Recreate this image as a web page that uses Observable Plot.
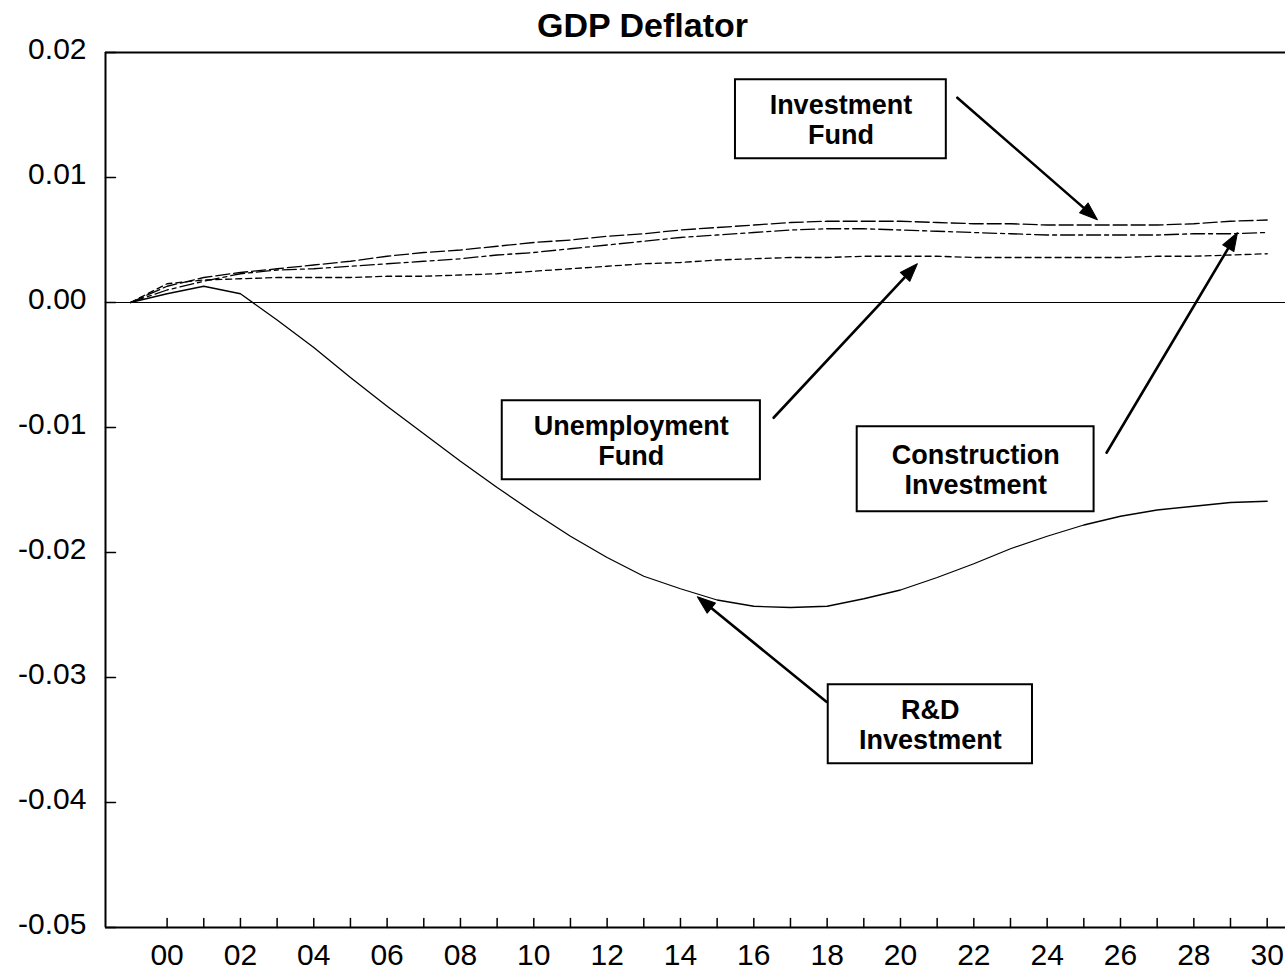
<!DOCTYPE html>
<html>
<head>
<meta charset="utf-8">
<script src="https://cdn.jsdelivr.net/npm/d3@7"></script>
<script src="https://cdn.jsdelivr.net/npm/@observablehq/plot@0.6"></script>
<style>
  html, body { margin: 0; padding: 0; background: #fff; overflow: hidden; }
  #wrap { position: relative; width: 1285px; height: 971px; }
  #chart { position: absolute; left: 0; top: 0; }
  #title { position: absolute; left: 0; top: 8px; width: 1285px; text-align: center; z-index: 2;
           font: bold 34px/34px "Liberation Sans", Arial, Helvetica, sans-serif; color: #000; }
</style>
</head>
<body>
<div id="wrap">
  <div id="chart"></div>
  <div id="title">GDP Deflator</div>
</div>
<script>
// ---- data ----
const years = [1999,2000,2001,2002,2003,2004,2005,2006,2007,2008,2009,2010,2011,2012,2013,2014,2015,
               2016,2017,2018,2019,2020,2021,2022,2023,2024,2025,2026,2027,2028,2029,2030];
const rdInvestment = [0,0.0007,0.0013,0.0007,-0.0014,-0.0036,-0.0060,-0.0083,-0.0105,-0.0127,-0.0148,-0.0168,
  -0.0187,-0.0204,-0.0219,-0.0229,-0.0238,-0.0243,-0.0244,-0.0243,-0.0237,-0.0230,-0.0220,-0.0209,-0.0197,
  -0.0187,-0.0178,-0.0171,-0.0166,-0.0163,-0.0160,-0.0159];
const investmentFund = [0,0.0013,0.0020,0.0024,0.0027,0.0030,0.0033,0.0037,0.0040,0.0042,0.0045,0.0048,
  0.0050,0.0053,0.0055,0.0058,0.0060,0.0062,0.0064,0.0065,0.0065,0.0065,0.0064,0.0063,0.0063,0.0062,
  0.0062,0.0062,0.0062,0.0063,0.0065,0.0066];
const constructionInvestment = [0,0.0010,0.0017,0.0023,0.0026,0.0027,0.0029,0.0031,0.0033,0.0035,0.0038,0.0040,
  0.0043,0.0046,0.0049,0.0052,0.0054,0.0056,0.0058,0.0059,0.0059,0.0058,0.0057,0.0056,0.0055,0.0054,
  0.0054,0.0054,0.0054,0.0055,0.0055,0.0056];
const unemploymentFund = [0,0.0015,0.0018,0.0019,0.0020,0.0020,0.0020,0.0021,0.0021,0.0022,0.0023,0.0025,
  0.0027,0.0029,0.0031,0.0032,0.0034,0.0035,0.0036,0.0036,0.0037,0.0037,0.0037,0.0036,0.0036,0.0036,
  0.0036,0.0036,0.0037,0.0037,0.0038,0.0039];

const yTicks = [0.02,0.01,0,-0.01,-0.02,-0.03,-0.04,-0.05];
const yTickLabels = ["0.02","0.01","0.00","-0.01","-0.02","-0.03","-0.04","-0.05"];
const xTickYears = [2000,2001,2002,2003,2004,2005,2006,2007,2008,2009,2010,2011,2012,2013,2014,2015,
                    2016,2017,2018,2019,2020,2021,2022,2023,2024,2025,2026,2027,2028,2029,2030];
const xLabelYears = [2000,2002,2004,2006,2008,2010,2012,2014,2016,2018,2020,2022,2024,2026,2028,2030];
const xTickLabels = ["00","02","04","06","08","10","12","14","16","18","20","22","24","26","28","30"];

// annotation boxes and arrows (data units)
const annLabels = ["Investment\nFund","Unemployment\nFund","Construction\nInvestment","R&D\nInvestment"];
const boxX1 = [2015.50, 2009.14, 2018.82, 2018.03];
const boxX2 = [2021.25, 2016.18, 2025.28, 2023.60];
const boxYTop = [0.01782, -0.00786, -0.00994, -0.03058];
const boxYBot = [0.01150, -0.01418, -0.01674, -0.03690];
const arrowX1 = [2021.55, 2016.54, 2025.62, 2017.98];
const arrowY1 = [0.01638, -0.00922, -0.01202, -0.03194];
const arrowX2 = [2025.37, 2020.46, 2029.19, 2014.46];
const arrowY2 = [0.00662, 0.00310, 0.00558, -0.02354];

const xDomain = [1998.32, 2030.5];
const yDomain = [-0.05, 0.02];

// ---- build tables ----
const seriesDefs = [
  {name: "R&D Investment", values: rdInvestment, dash: null, sw: 1.3},
  {name: "Investment Fund", values: investmentFund, dash: "14,4", sw: 1.3},
  {name: "Construction Investment", values: constructionInvestment, dash: "14,4,4,4", sw: 1.3},
  {name: "Unemployment Fund", values: unemploymentFund, dash: "6,4", sw: 1.3}
];
const ann = annLabels.map((label, i) => ({
  label, bx1: boxX1[i], bx2: boxX2[i], byt: boxYTop[i], byb: boxYBot[i],
  x1: arrowX1[i], y1: arrowY1[i], x2: arrowX2[i], y2: arrowY2[i]
}));

const tickShape = {draw(c, l) { c.moveTo(0, 0); c.lineTo(0, -l); }};
const headShape = {draw(c, l) { c.moveTo(0, 0); c.lineTo(-6.5, l); c.lineTo(6.5, l); c.closePath(); }};
const font = '"Liberation Sans", Arial, Helvetica, sans-serif';

function build(extra) {
  const lineMarks = seriesDefs.map(s => Plot.line(years.map((y, i) => ({year: y, v: s.values[i]})), {
    x: "year", y: "v", stroke: "black", strokeWidth: s.sw, strokeDasharray: s.dash
  }));
  return Plot.plot({
    width: 1285, height: 971,
    marginLeft: 105, marginRight: 0, marginTop: 52, marginBottom: 44,
    style: {fontFamily: font, fontSize: "30px", color: "black", background: "white", overflow: "visible"},
    x: {domain: xDomain, label: null},
    y: {domain: yDomain, label: null},
    marks: [
      ...lineMarks,
      Plot.ruleY([0], {stroke: "black", strokeWidth: 1.2}),
      Plot.ruleY([yDomain[1]], {stroke: "black", strokeWidth: 2}),
      Plot.ruleY([yDomain[0]], {stroke: "black", strokeWidth: 2}),
      Plot.ruleX([xDomain[0]], {stroke: "black", strokeWidth: 2}),
      Plot.vector(yTicks, {y: d => d, frameAnchor: "left", rotate: 90, length: 10, anchor: "start",
        shape: tickShape, stroke: "black", strokeWidth: 1.5}),
      Plot.vector(xTickYears, {x: d => d, frameAnchor: "bottom", rotate: 0, length: 9, anchor: "start",
        shape: tickShape, stroke: "black", strokeWidth: 1.5}),
      Plot.axisY(yTicks, {tickSize: 0, tickPadding: 19, label: null, dy: -3,
        tickFormat: d => yTickLabels[yTicks.indexOf(d)]}),
      Plot.axisX(xLabelYears, {tickSize: 0, tickPadding: 16, label: null,
        tickFormat: d => xTickLabels[xLabelYears.indexOf(d)]}),
      Plot.rect(ann, {x1: "bx1", x2: "bx2", y1: "byb", y2: "byt", fill: "white", stroke: "black", strokeWidth: 2}),
      Plot.text(ann, {x: d => (d.bx1 + d.bx2) / 2, y: d => (d.byt + d.byb) / 2, text: "label",
        fontSize: 27, fontWeight: "bold", lineHeight: 1.11, textAnchor: "middle", fill: "black"}),
      Plot.arrow(ann, {x1: "x1", y1: "y1", x2: "x2", y2: "y2", stroke: "black", strokeWidth: 2.6,
        headLength: 0, insetEnd: 12}),
      ...extra
    ]
  });
}

const probe = build([]);
const sx = probe.scale("x"), sy = probe.scale("y");
const heads = ann.map(a => {
  const dx = sx.apply(a.x2) - sx.apply(a.x1);
  const dy = sy.apply(a.y2) - sy.apply(a.y1);
  return {...a, angle: Math.atan2(dx, -dy) * 180 / Math.PI};
});
const chart = build([
  Plot.vector(heads, {x: "x2", y: "y2", rotate: "angle", length: 18, anchor: "start",
    shape: headShape, fill: "black", stroke: "black", strokeWidth: 1})
]);
document.getElementById("chart").appendChild(chart);
</script>
</body>
</html>
